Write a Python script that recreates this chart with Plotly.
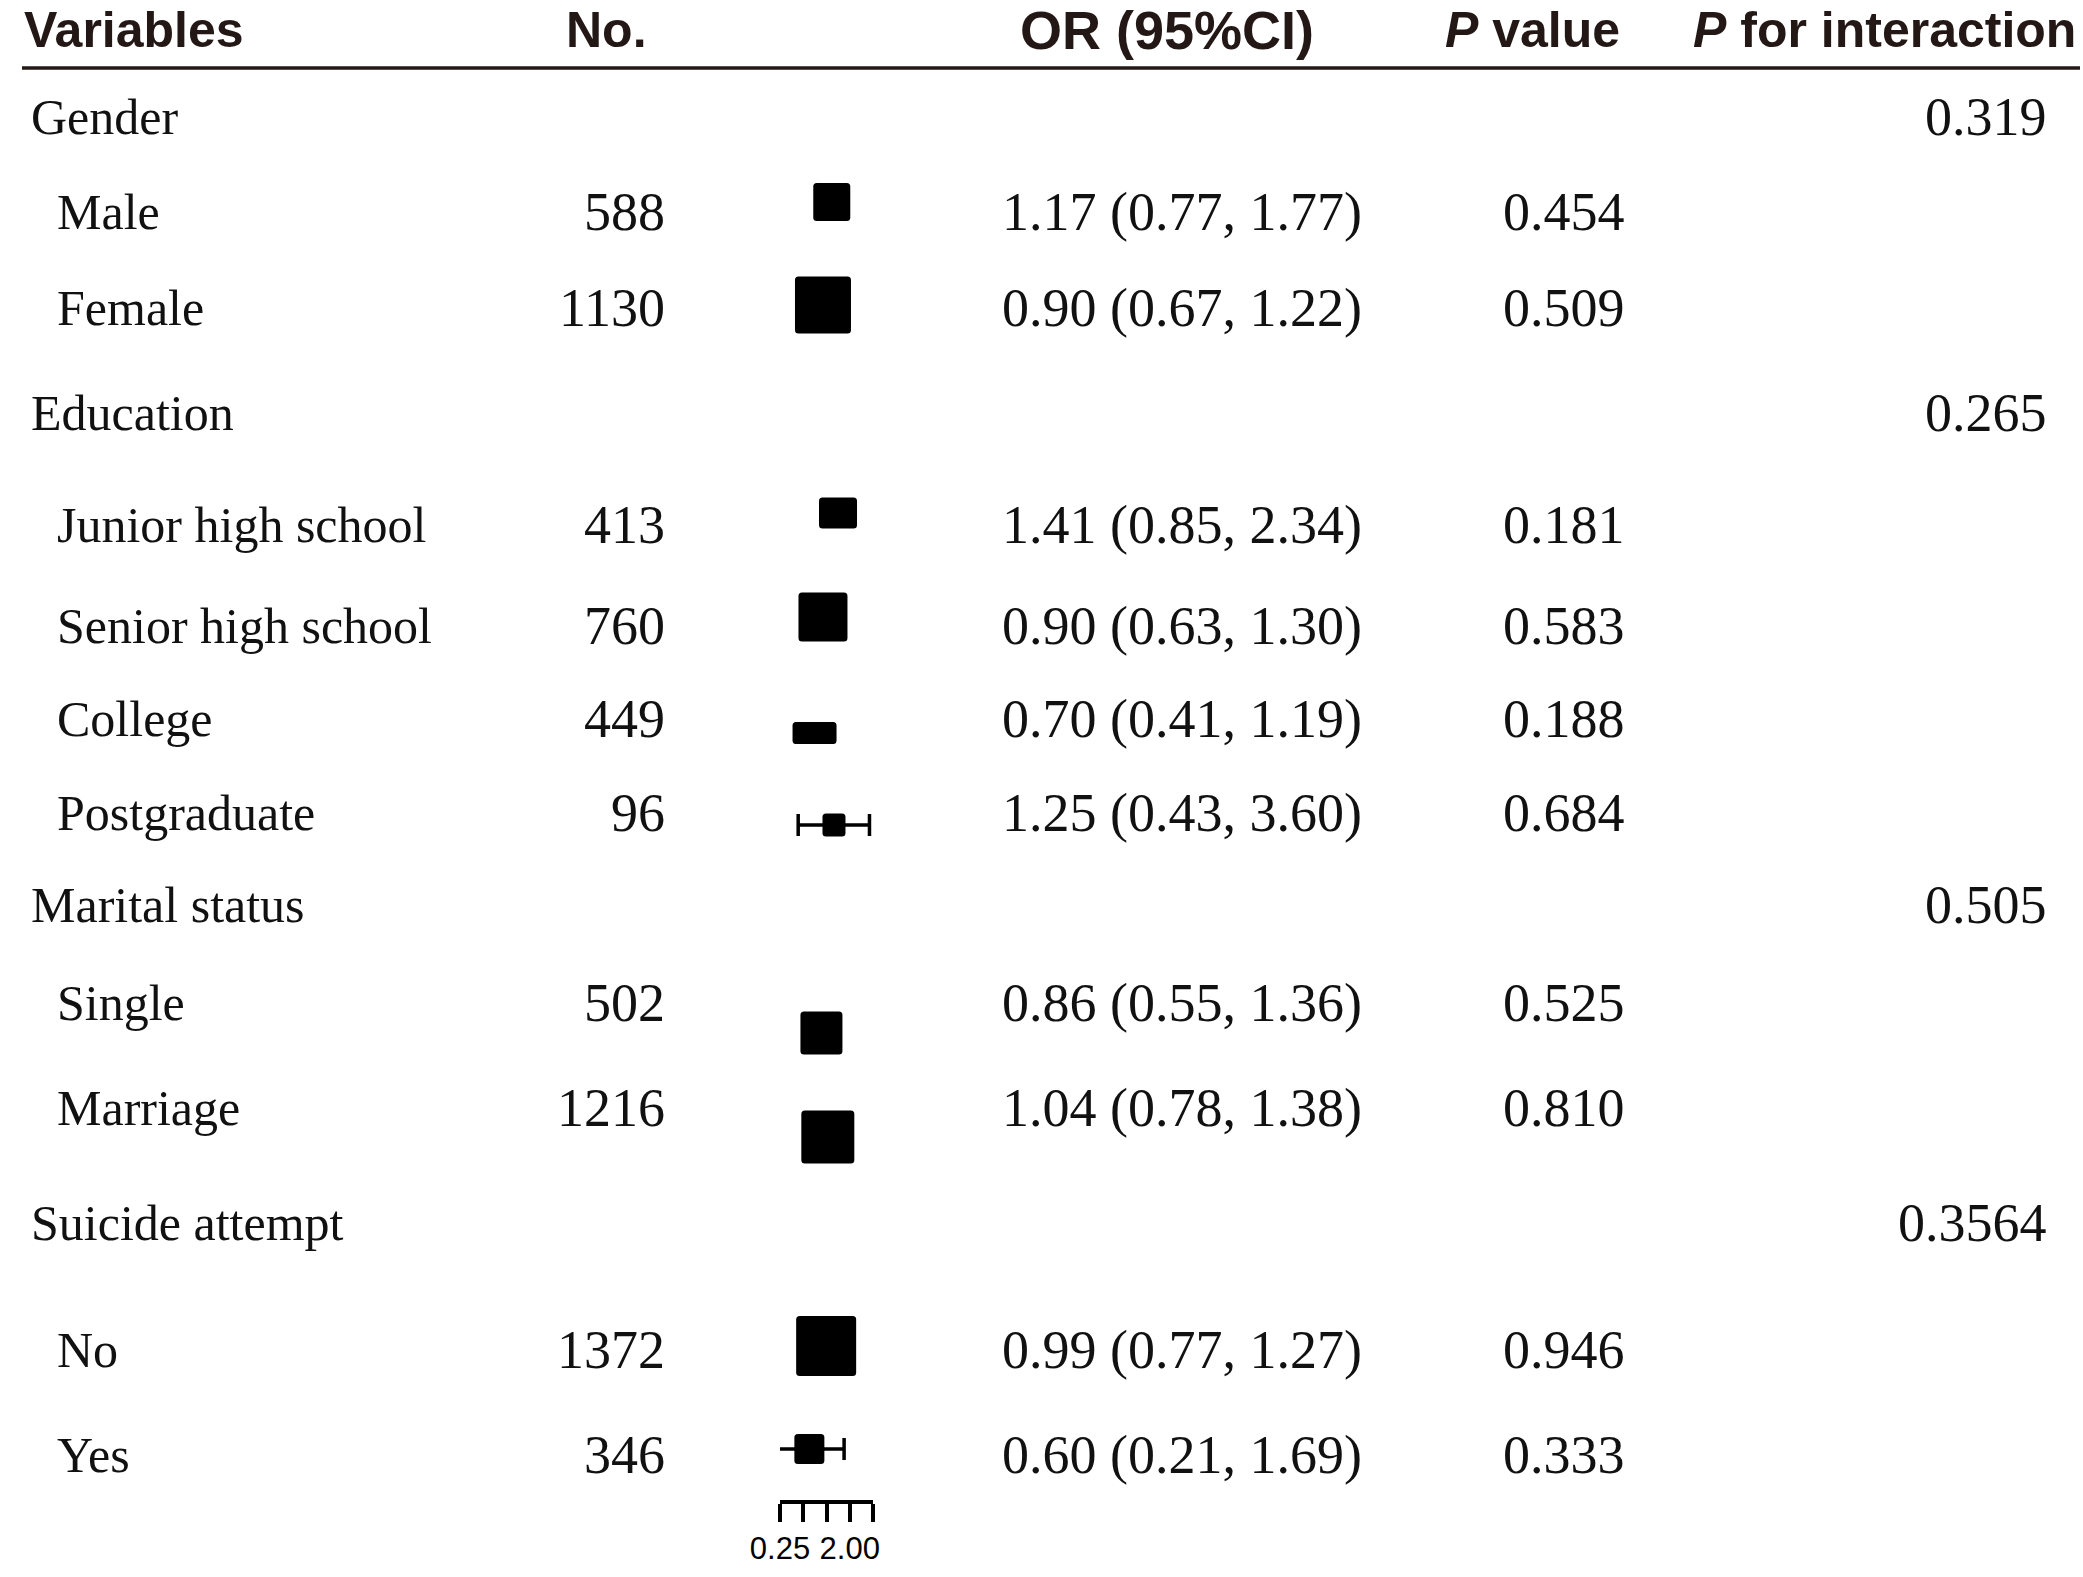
import numpy as np
import plotly.graph_objects as go

W, H = 2083, 1577

# ---------------- data ----------------
groups = ["Gender", "Education", "Marital status", "Suicide attempt"]
p_interaction = ["0.319", "0.265", "0.505", "0.3564"]

subgroups = ["Male", "Female", "Junior high school", "Senior high school", "College",
             "Postgraduate", "Single", "Marriage", "No", "Yes"]
n_obs = [588, 1130, 413, 760, 449, 96, 502, 1216, 1372, 346]
or_est = [1.17, 0.90, 1.41, 0.90, 0.70, 1.25, 0.86, 1.04, 0.99, 0.60]
ci_low = [0.77, 0.67, 0.85, 0.63, 0.41, 0.43, 0.55, 0.78, 0.77, 0.21]
ci_high = [1.77, 1.22, 2.34, 1.30, 1.19, 3.60, 1.36, 1.38, 1.27, 1.69]
p_value = ["0.454", "0.509", "0.181", "0.583", "0.188", "0.684", "0.525", "0.810", "0.946", "0.333"]

tick_vals = [0.25, 0.5, 1, 2, 4]
tick_text = ["0.25", "", "", "2.00", ""]

headers = ["Variables", "No.", "OR (95%CI)", "<i>P</i> value", "<i>P</i> for interaction"]

# ---------------- layout constants (pixels) ----------------
group_row_y = [117, 413, 905, 1223]
sub_row_y = [212, 308, 525, 626, 719, 813, 1003, 1108, 1350, 1455]
box_dy = [-10, -3, -12, -9, 14, 12, 30, 29, -4, -6]
box_w = [37, 56, 38, 49, 44, 23, 42, 53, 60, 30]
box_h = [38, 57, 31, 49, 22, 23, 43, 53, 60, 30]

AX_TOP = 1500          # pixel row of the forest axis line
X_LEFT, X_RIGHT = 780, 873

def px(x):
    return x / W

SERIF = "Liberation Serif, Times New Roman, serif"
SANS = "Liberation Sans, Arial, sans-serif"
BODY_FONT = dict(family=SERIF, size=50, color="#111111")
NUM_FONT = dict(family=SERIF, size=54, color="#111111")
HEAD_FONT = dict(family=SANS, size=50, color="#231815")
HEAD_FONT_WIDE = dict(family=SANS, size=54, color="#231815")

# the forest axis is a log2 scale: positions are log2(OR), ticks labelled with OR values
lx = np.log2(or_est)
llo = np.log2(ci_low)
lhi = np.log2(ci_high)

fig = go.Figure()

box_y = [y + d for y, d in zip(sub_row_y, box_dy)]

fig.add_trace(go.Scatter(
    x=lx, y=box_y, mode="markers",
    marker=dict(size=2, color="rgba(0,0,0,0)"),
    error_x=dict(type="data", symmetric=False, array=lhi - lx, arrayminus=lx - llo,
                 color="black", thickness=3.5, width=11),
    cliponaxis=False, hoverinfo="skip", showlegend=False,
))

def rounded_rect(w, h, r=3.5):
    a, b = w / 2, h / 2
    return (f"M {-a + r},{-b} L {a - r},{-b} Q {a},{-b} {a},{-b + r} "
            f"L {a},{b - r} Q {a},{b} {a - r},{b} L {-a + r},{b} Q {-a},{b} {-a},{b - r} "
            f"L {-a},{-b + r} Q {-a},{-b} {-a + r},{-b} Z")

shapes = []
for xv, yb, w, h in zip(lx, box_y, box_w, box_h):
    shapes.append(dict(type="path", xref="x", yref="y", xsizemode="pixel", ysizemode="pixel",
                       xanchor=float(xv), yanchor=yb, path=rounded_rect(w, h),
                       fillcolor="black", line=dict(width=0), layer="above"))

# header underline
shapes.append(dict(type="line", xref="paper", yref="y", x0=px(22), x1=px(2080), y0=68, y1=68,
                   line=dict(color="#231815", width=3.5)))

annotations = []
head_pos = [(22, "left"), (606, "center"), (1167, "center"), (1622, "right"), (2078, "right")]
head_fonts = [HEAD_FONT, HEAD_FONT, HEAD_FONT_WIDE, HEAD_FONT, HEAD_FONT]
for txt, (x, anc), fnt in zip(headers, head_pos, head_fonts):
    annotations.append(dict(text=f"<b>{txt}</b>", x=px(x), y=30, xref="paper", yref="y",
                            xanchor=anc, yanchor="middle", showarrow=False, font=fnt))

for g, pint, y in zip(groups, p_interaction, group_row_y):
    annotations.append(dict(text=g, x=px(29), y=y, xref="paper", yref="y", xanchor="left",
                            yanchor="middle", showarrow=False, font=BODY_FONT))
    annotations.append(dict(text=pint, x=px(2049), y=y, xref="paper", yref="y", xanchor="right",
                            yanchor="middle", showarrow=False, font=NUM_FONT))

for s, n, o, lo, hi, p, y in zip(subgroups, n_obs, or_est, ci_low, ci_high, p_value, sub_row_y):
    annotations.append(dict(text=s, x=px(55), y=y, xref="paper", yref="y", xanchor="left",
                            yanchor="middle", showarrow=False, font=BODY_FONT))
    annotations.append(dict(text=str(n), x=px(667), y=y, xref="paper", yref="y", xanchor="right",
                            yanchor="middle", showarrow=False, font=NUM_FONT))
    annotations.append(dict(text=f"{o:.2f} ({lo:.2f}, {hi:.2f})", x=px(1000), y=y, xref="paper",
                            yref="y", xanchor="left", yanchor="middle", showarrow=False,
                            font=NUM_FONT))
    annotations.append(dict(text=p, x=px(1627), y=y, xref="paper", yref="y", xanchor="right",
                            yanchor="middle", showarrow=False, font=NUM_FONT))

fig.update_layout(
    width=W, height=H, margin=dict(l=0, r=0, t=0, b=0, pad=0, autoexpand=False),
    paper_bgcolor="white", plot_bgcolor="white",
    shapes=shapes, annotations=annotations, showlegend=False,
    xaxis=dict(type="linear", domain=[px(X_LEFT), px(X_RIGHT)],
               range=[np.log2(tick_vals[0]), np.log2(tick_vals[-1])],
               tickvals=np.log2(tick_vals), ticktext=tick_text,
               ticks="outside", ticklen=18, tickwidth=4, tickcolor="black",
               showline=True, linecolor="black", linewidth=4, mirror=False,
               showgrid=False, zeroline=False, automargin=False, fixedrange=True,
               tickfont=dict(family=SANS, size=31, color="black")),
    yaxis=dict(domain=[(H - AX_TOP) / H, 1], range=[AX_TOP, 0], visible=False,
               showgrid=False, zeroline=False, automargin=False, fixedrange=True),
)

fig.write_html("out.html", config={"displayModeBar": False},
               post_script="document.body.style.margin='0px';")
